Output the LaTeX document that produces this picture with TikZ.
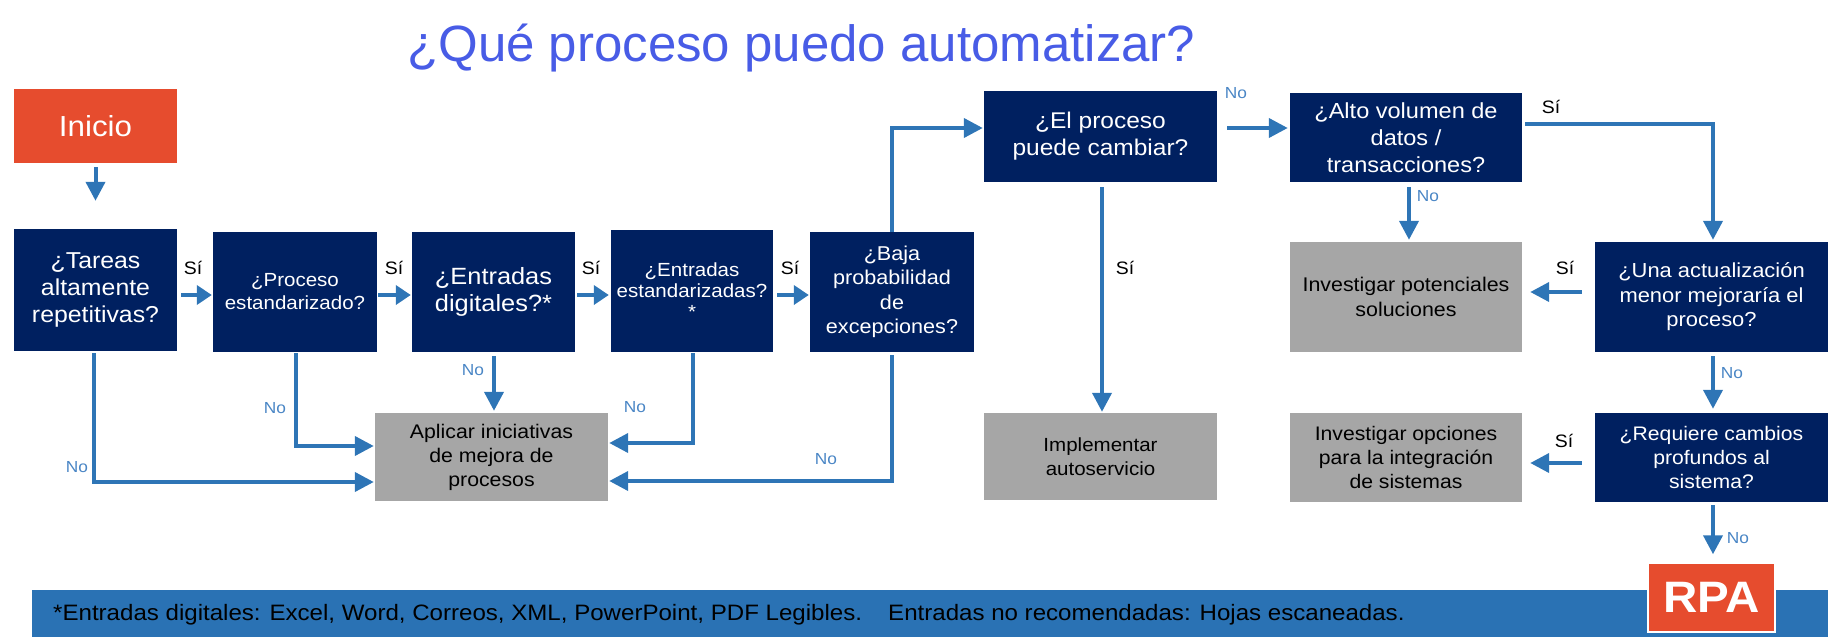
\documentclass[tikz,border=0pt]{standalone}
\usepackage{fontspec}
\setmainfont{Liberation Sans}
\newfontfamily\bx{Liberation Sans}[FakeStretch=1.08]
\usetikzlibrary{arrows.meta,calc}
\definecolor{navy}{RGB}{0,32,96}
\definecolor{orng}{RGB}{230,76,46}
\definecolor{gry}{RGB}{166,166,166}
\definecolor{arrblue}{RGB}{46,117,182}
\definecolor{nolbl}{RGB}{74,134,197}
\definecolor{ttl}{RGB}{72,92,230}
\definecolor{barblue}{RGB}{42,114,180}
\begin{document}
\begin{tikzpicture}[x=1pt,y=-1pt,
  box/.style={rectangle, inner sep=2pt, align=center, font=\bx\fontsize{23}{27}\selectfont},
  qbox/.style={box, fill=navy, text=white},
  gbox/.style={box, fill=gry, text=black, font=\bx\fontsize{19.7}{24}\selectfont},
  wide/.style={minimum width=233pt},
  narrow/.style={minimum width=163pt},
  conn/.style={draw=arrblue, line width=4pt, -{Triangle[length=19pt,width=19pt]}},
  connS/.style={draw=arrblue, line width=4pt, -{Triangle[length=15pt,width=19pt]}},
  si/.style={font=\bx\fontsize{18}{18}\selectfont, text=black, inner sep=0pt},
  no/.style={font=\bx\fontsize{16}{16}\selectfont, text=nolbl, inner sep=0pt},
  foot/.style={font=\bx\fontsize{22.3}{24}\selectfont, text=black, inner sep=0pt, anchor=base west}
]
\useasboundingbox (0,0) rectangle (1840,637);

% title
\node[anchor=base west, inner sep=0pt, text=ttl, font=\fontsize{51}{51}\selectfont] (title) at (407,61) {¿Qué proceso puedo automatizar?};

% footer bar
\node[fill=barblue, minimum width=1796pt, minimum height=47pt, inner sep=0pt, anchor=north west] (bar) at (32,590) {};
\node[foot] (fa) at (53,620) {*Entradas digitales: Excel, Word, Correos, XML, PowerPoint, PDF Legibles.};
\node[foot] (fb) at (888,620) {Entradas no recomendadas: Hojas escaneadas.};

% boxes
\node[box, fill=orng, text=white, narrow, minimum height=74pt, font=\bx\fontsize{29}{30}\selectfont] (inicio) at (95.5,126) {Inicio};
\node[qbox, narrow, minimum height=122pt] (tareas) at (95.5,290) {¿Tareas\\altamente\\repetitivas?};
\node[qbox, narrow, minimum width=164pt, minimum height=120pt, font=\bx\fontsize{19}{23}\selectfont] (proceso) at (295,292) {¿Proceso\\estandarizado?};
\node[qbox, narrow, minimum height=120pt, font=\bx\fontsize{23.5}{27}\selectfont] (digit) at (493.5,292) {¿Entradas\\digitales?*};
\node[qbox, narrow, minimum width=162pt, minimum height=122pt, font=\bx\fontsize{19}{21}\selectfont] (estand) at (692,291) {¿Entradas\\estandarizadas?\\*};
\node[qbox, narrow, minimum width=164pt, minimum height=120pt, font=\bx\fontsize{20}{24.5}\selectfont] (baja) at (892,292) {¿Baja\\probabilidad\\de\\excepciones?};
\node[qbox, wide, minimum height=91pt, font=\bx\fontsize{22.7}{27}\selectfont] (cambiar) at (1100.5,136.5) {¿El proceso\\puede cambiar?};
\node[qbox, wide, minimum width=232pt, minimum height=89pt, font=\bx\fontsize{21.8}{27}\selectfont] (alto) at (1406,137.5) {¿Alto volumen de\\datos /\\transacciones?};
\node[gbox, wide, minimum width=232pt, minimum height=110pt, font=\bx\fontsize{19.8}{24.5}\selectfont] (invpot) at (1406,297) {Investigar potenciales\\soluciones};
\node[qbox, wide, minimum height=110pt, font=\bx\fontsize{20.3}{24.5}\selectfont] (una) at (1711.5,297) {¿Una actualización\\menor mejoraría el\\proceso?};
\node[gbox, wide, minimum height=88pt] (aplicar) at (491.5,457) {Aplicar iniciativas\\de mejora de\\procesos};
\node[gbox, wide, minimum height=87pt, font=\bx\fontsize{19}{23.5}\selectfont] (implem) at (1100.5,456.5) {Implementar\\autoservicio};
\node[gbox, wide, minimum width=232pt, minimum height=89pt, font=\bx\fontsize{19.6}{24}\selectfont] (invopc) at (1406,457.5) {Investigar opciones\\para la integración\\de sistemas};
\node[qbox, wide, minimum height=89pt, font=\bx\fontsize{19.6}{24}\selectfont] (requiere) at (1711.5,457.5) {¿Requiere cambios\\profundos al\\sistema?};
\node[box, fill=orng, draw=white, line width=1.5pt, text=white, minimum width=127pt, minimum height=69pt, font=\bx\bfseries\fontsize{44}{44}\selectfont] (rpa) at (1711.5,597.5) {RPA};

% connectors
\draw[conn] ($(inicio.south)+(0,4)$) -- ($(tareas.north)+(0,-28)$);
\draw[connS] ($(tareas.east)+(4,5)$) -- ($(proceso.west)+(-1,3)$);
\draw[connS] ($(proceso.east)+(1,3)$) -- ($(digit.west)+(-1,3)$);
\draw[connS] ($(digit.east)+(2,3)$) -- ($(estand.west)+(-2,4)$);
\draw[connS] ($(estand.east)+(4,4)$) -- ($(baja.west)+(-1,3)$);
\draw[conn] ($(digit.south)+(0.5,4)$) -- ($(digit.south |- aplicar.north)+(0.5,-2)$);
\draw[conn] ($(tareas.south)+(-1.5,2)$) |- ($(aplicar.west)+(-1,25)$);
\draw[conn] ($(proceso.south)+(1,1)$) |- ($(aplicar.west)+(-1,-11)$);
\draw[conn] ($(estand.south)+(1,1)$) |- ($(aplicar.east)+(1,-14)$);
\draw[conn] ($(baja.south)+(0,3)$) |- ($(aplicar.east)+(1,24)$);
\draw[conn] (baja.north) |- ($(cambiar.west)+(-1,-8.5)$);
\draw[conn] ($(cambiar.south)+(1.5,5)$) -- ($(cambiar.south |- implem.north)+(1.5,-1)$);
\draw[conn] ($(cambiar.east)+(10,-8.5)$) -- ($(alto.west)+(-2,-9.5)$);
\draw[conn] ($(alto.east)+(3,-13.5)$) -| ($(una.north)+(1.5,-2)$);
\draw[conn] ($(alto.south)+(3,5)$) -- ($(alto.south |- invpot.north)+(3,-2)$);
\draw[conn] ($(una.west)+(-13,-5)$) -- ($(invpot.east)+(8,-5)$);
\draw[conn] ($(una.south)+(1.5,4)$) -- ($(una.south |- requiere.north)+(1.5,-4)$);
\draw[conn] ($(requiere.west)+(-13,5.5)$) -- ($(invopc.east)+(8,5.5)$);
\draw[conn] ($(requiere.south)+(1.5,3)$) -- ($(rpa.north)+(1.5,-8)$);

% labels
\node[si] (s1) at (193,268) {Sí};
\node[si] (s2) at (394,268) {Sí};
\node[si] (s3) at (591,268) {Sí};
\node[si] (s4) at (790,268) {Sí};
\node[si] (s5) at (1125,268) {Sí};
\node[si] (s6) at (1551,107) {Sí};
\node[si] (s7) at (1565,268) {Sí};
\node[si] (s8) at (1564,441) {Sí};
\node[no] (n1) at (77,467) {No};
\node[no] (n2) at (275,408) {No};
\node[no] (n3) at (473,370) {No};
\node[no] (n4) at (635,407) {No};
\node[no] (n5) at (826,459) {No};
\node[no] (n6) at (1236,93) {No};
\node[no] (n7) at (1428,196) {No};
\node[no] (n8) at (1732,373) {No};
\node[no] (n9) at (1738,538) {No};
\end{tikzpicture}
\end{document}
